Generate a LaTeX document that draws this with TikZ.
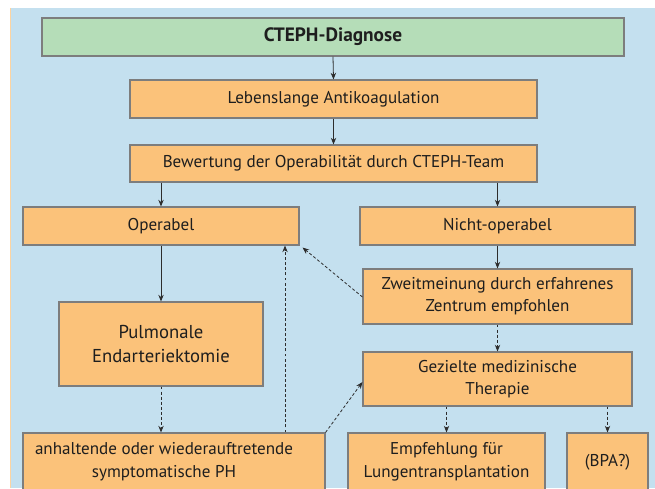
\documentclass[tikz,border=0pt]{standalone}
\usepackage{fontspec}
\setmainfont{PT Sans}
\usetikzlibrary{fit,arrows.meta,calc}
\definecolor{bgblue}{RGB}{196,224,239}
\definecolor{boxorange}{RGB}{251,194,122}
\definecolor{boxgreen}{RGB}{181,221,184}
\definecolor{boxline}{RGB}{125,125,125}
\definecolor{arrowc}{RGB}{45,45,45}
\definecolor{textc}{RGB}{30,30,30}
\tikzset{
  box/.style={draw=boxline, line width=0.8pt, fill=boxorange, inner sep=0pt},
  gbox/.style={box, fill=boxgreen},
  lbl/.style={align=center, text=textc, inner sep=0pt, font=\fontsize{12.8}{16.5}\selectfont},
  glbl/.style={lbl, font=\fontsize{14.5}{17}\selectfont\bfseries},
  plbl/.style={lbl, font=\fontsize{14}{18}\selectfont},
  arr/.style={draw=arrowc, line width=0.6pt, -{Stealth[length=5pt,width=4pt]}},
  darr/.style={arr, dash pattern=on 2.2pt off 1.6pt},
}
\begin{document}
\begin{tikzpicture}[x=0.75pt,y=-0.75pt]
\clip (0,0) rectangle (655,488);
\useasboundingbox (0,0) rectangle (655,488);
\fill[white] (0,0) rectangle (655,488);
\fill[bgblue] (10.5,8) rectangle (655,488);
\draw[boxorange!70, line width=0.5pt] (10.5,8) -- (10.5,488);

\node[gbox, fit={(42,18)(624,56)}] (diag) {};
\node[glbl] (diagt) at (diag) {CTEPH-Diagnose};
\node[box, fit={(130,80)(537,118)}] (leb) {};
\node[lbl] (lebt) at (leb) {Lebenslange Antikoagulation};
\node[box, fit={(130,145)(537,182)}] (bew) {};
\node[lbl] (bewt) at (bew) {Bewertung der Operabilität durch CTEPH-Team};
\node[box, fit={(23,207)(299,245)}] (op) {};
\node[lbl] (opt) at (op) {Operabel};
\node[box, fit={(360,207)(635,245)}] (nop) {};
\node[lbl] (nopt) at (nop) {Nicht-operabel};
\node[box, fit={(363,269)(632,324)}] (zw) {};
\node[lbl] (zwt) at (zw) {Zweitmeinung durch erfahrenes\\Zentrum empfohlen};
\node[box, fit={(59,302)(263,386)}] (pulm) {};
\node[plbl] (pulmt) at (pulm) {Pulmonale\\Endarteriektomie};
\node[box, fit={(363,352)(632,406)}] (gez) {};
\node[lbl] (gezt) at (gez) {Gezielte medizinische\\Therapie};
\node[box, fit={(23,433)(325,491)}] (anh) {};
\node[lbl, font=\fontsize{12.8}{17.2}\selectfont] (anht) at (164,461.5) {anhaltende oder wiederauftretende\\symptomatische PH};
\node[box, fit={(348,433)(545,491)}] (empf) {};
\node[lbl, font=\fontsize{12.8}{17.2}\selectfont] (empft) at (446.5,461.5) {Empfehlung für\\Lungentransplantation};
\node[box, fit={(567,433)(648,491)}] (bpa) {};
\node[lbl] (bpat) at (607.5,462) {(BPA?)};

\coordinate (upx) at (285,0);
\coordinate (zwy) at (0,297);
\coordinate (gezy) at (0,382);
\draw[arr] (diag.south) -- (leb.north);
\draw[arr] (leb.south) -- (bew.north);
\draw[arr] (bew.south -| op.south) -- (op.north);
\draw[arr] (bew.south -| zw.south) -- (nop.north -| zw.south);
\draw[arr] (op.south) -- (pulm.north);
\draw[arr] (nop.south -| zw.north) -- (zw.north);
\draw[darr] (zw.south) -- (gez.north);
\draw[darr] (pulm.south) -- (anh.north -| pulm.south);
\draw[darr] (gez.south -| empf.north) -- (empf.north);
\draw[darr] (gez.south -| bpa.north) -- (bpa.north);
\draw[darr] (anh.north -| upx) -- (op.south -| upx);
\draw[darr] (zw.west |- zwy) -- ($(op.south east)+(3,2)$);
\draw[darr] (anh.north east) -- (gez.west |- gezy);
\end{tikzpicture}
\end{document}
